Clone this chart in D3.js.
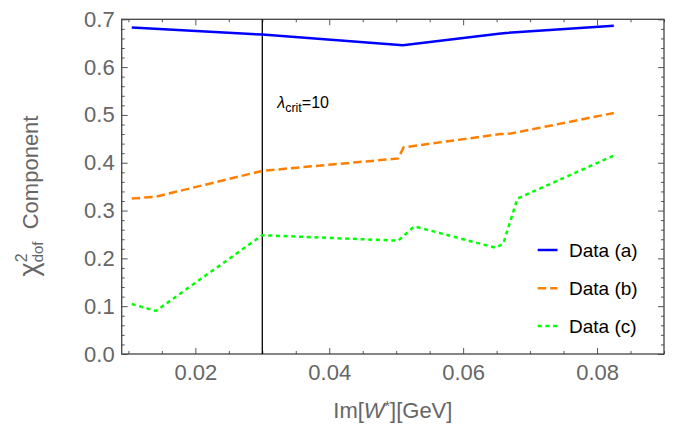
<!DOCTYPE html>
<html><head><meta charset="utf-8">
<script src="https://cdn.jsdelivr.net/npm/d3@7"></script>
<style>
body{margin:0;background:#fff;}
svg{display:block;font-family:"Liberation Sans",Arial,sans-serif;}
</style></head>
<body><svg id="c" width="686" height="427"></svg>
<script>
// ---- data ----
const xA = [0.0105, 0.030, 0.051, 0.0653, 0.0664, 0.0825];
const yA = [0.683, 0.668, 0.6455, 0.670, 0.6715, 0.6865];
const xB = [0.0105, 0.0141, 0.030, 0.0503, 0.0511, 0.0655, 0.0671, 0.0825];
const yB = [0.325, 0.329, 0.383, 0.409, 0.432, 0.460, 0.461, 0.504];
const xC = [0.0105, 0.0141, 0.030, 0.0503, 0.0527, 0.0649, 0.0660, 0.0681, 0.0825];
const yC = [0.1045, 0.090, 0.2485, 0.237, 0.267, 0.222, 0.231, 0.325, 0.415];
const seriesNames = ["Data (a)", "Data (b)", "Data (c)"];
const xTicks = [0.02, 0.04, 0.06, 0.08];
const yTicks = [0.0, 0.1, 0.2, 0.3, 0.4, 0.5, 0.6, 0.7];
const critX = 0.03;
const critValue = 10;

// ---- layout ----
const svg = d3.select("#c");
const L = 121.7, R = 664, T = 19.3, B = 354;
const x = d3.scaleLinear().domain([0.009, 0.09]).range([L, R]);
const y = d3.scaleLinear().domain([0, 0.7]).range([B, T]);
const frameCol = "#444", tickCol = "#555", labCol = "#666";

const xMinor = d3.range(0.010, 0.0901, 0.005).filter(v => !xTicks.some(t => Math.abs(t - v) < 1e-9));
const yMinor = d3.range(0, 0.7001, 0.02).filter(v => !yTicks.some(t => Math.abs(t - v) < 1e-9));

function styleAxis(g) {
  g.select(".domain").remove();
  g.selectAll(".tick line").attr("stroke", tickCol).attr("stroke-width", 1);
  g.selectAll(".tick text").attr("fill", labCol).style("font-size", "22px");
}
// bottom
svg.append("g").attr("transform", `translate(0,${B})`)
  .call(d3.axisBottom(x).tickValues(xTicks).tickSize(-6).tickPadding(10).tickFormat(d3.format(".2f")))
  .call(styleAxis);
svg.append("g").attr("transform", `translate(0,${B})`)
  .call(d3.axisBottom(x).tickValues(xMinor).tickSize(-3).tickFormat(""))
  .call(styleAxis);
// top
svg.append("g").attr("transform", `translate(0,${T})`)
  .call(d3.axisTop(x).tickValues(xTicks).tickSize(-6).tickFormat(""))
  .call(styleAxis);
svg.append("g").attr("transform", `translate(0,${T})`)
  .call(d3.axisTop(x).tickValues(xMinor).tickSize(-3).tickFormat(""))
  .call(styleAxis);
// left
svg.append("g").attr("transform", `translate(${L},0)`)
  .call(d3.axisLeft(y).tickValues(yTicks).tickSize(-6).tickPadding(7).tickFormat(d3.format(".1f")))
  .call(styleAxis);
svg.append("g").attr("transform", `translate(${L},0)`)
  .call(d3.axisLeft(y).tickValues(yMinor).tickSize(-3).tickFormat(""))
  .call(styleAxis);
// right
svg.append("g").attr("transform", `translate(${R},0)`)
  .call(d3.axisRight(y).tickValues(yTicks).tickSize(-6).tickFormat(""))
  .call(styleAxis);
svg.append("g").attr("transform", `translate(${R},0)`)
  .call(d3.axisRight(y).tickValues(yMinor).tickSize(-3).tickFormat(""))
  .call(styleAxis);

// frame
svg.append("rect").attr("x", L).attr("y", T).attr("width", R - L).attr("height", B - T)
  .attr("fill", "none").attr("stroke", frameCol).attr("stroke-width", 1.3);

// critical line
svg.append("line").attr("x1", x(critX)).attr("x2", x(critX)).attr("y1", T).attr("y2", B)
  .attr("stroke", "#000").attr("stroke-width", 1.3);
const lt = svg.append("text").attr("x", x(critX) + 15).attr("y", 108).attr("fill", "#000").style("font-size", "16px");
lt.append("tspan").text("λ").style("font-style", "italic");
lt.append("tspan").text("crit").attr("dy", 4).style("font-size", "12.5px");
lt.append("tspan").text("=" + critValue).attr("dy", -4);

// series
const series = [
  {xs: xA, ys: yA, color: "#0000ff", dash: null},
  {xs: xB, ys: yB, color: "#ff8000", dash: "8.5,4"},
  {xs: xC, ys: yC, color: "#00ff00", dash: "4,3.7"}
];
const line = d3.line().x(d => x(d[0])).y(d => y(d[1]));
series.forEach(s => {
  svg.append("path").datum(s.xs.map((v, i) => [v, s.ys[i]]))
    .attr("d", line).attr("fill", "none").attr("stroke", s.color)
    .attr("stroke-width", 2.5).attr("stroke-dasharray", s.dash);
});

// legend
const legY = [250, 288.3, 326];
series.forEach((s, i) => {
  svg.append("line").attr("x1", 537.7).attr("x2", 557.5).attr("y1", legY[i]).attr("y2", legY[i])
    .attr("stroke", s.color).attr("stroke-width", 2.5).attr("stroke-dasharray", s.dash);
  svg.append("text").attr("x", 569).attr("y", legY[i]).attr("dy", "0.35em")
    .attr("fill", "#000").style("font-size", "19px").text(seriesNames[i]);
});

// axis labels
const xl = svg.append("text").attr("x", (L + R) / 2).attr("y", 418).attr("text-anchor", "middle")
  .attr("fill", labCol).style("font-size", "22px");
xl.append("tspan").text("Im[");
xl.append("tspan").text("W").style("font-style", "italic");
xl.append("tspan").text("*").attr("dy", -7).style("font-size", "14px");
xl.append("tspan").text("][GeV]").attr("dy", 7);

const yl = svg.append("text").attr("transform", "translate(38,196) rotate(-90)")
  .attr("text-anchor", "middle").attr("fill", labCol).style("font-size", "22px");
yl.append("tspan").text("χ").style("font-size", "27px");
yl.append("tspan").text("2").attr("dy", -11).style("font-size", "16px");
yl.append("tspan").text("dof").attr("dx", -9).attr("dy", 16).style("font-size", "15px");
yl.append("tspan").text("\u00a0\u00a0Component").attr("dy", -5);
</script></body></html>
